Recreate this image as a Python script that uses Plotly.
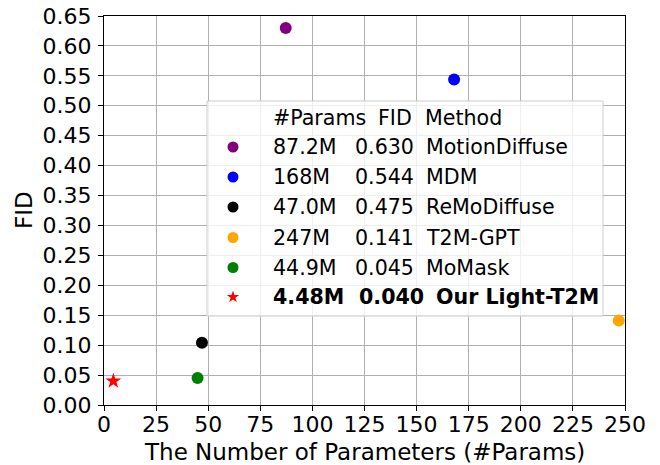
import math
import plotly.graph_objects as go

# ---- data ----
methods = ["MotionDiffuse", "MDM", "ReMoDiffuse", "T2M-GPT", "MoMask", "Our Light-T2M"]
params_m = [87.2, 168, 47.0, 247, 44.9, 4.48]          # x position (millions)
fid_plot = [0.630, 0.544, 0.104, 0.141, 0.045, 0.040]  # y position as drawn
params_label = ["87.2M", "168M", "47.0M", "247M", "44.9M", "4.48M"]
fid_label = ["0.630", "0.544", "0.475", "0.141", "0.045", "0.040"]
colors = ["purple", "blue", "black", "orange", "green", "red"]
symbols = ["circle", "circle", "circle", "circle", "circle", "star"]

x_ticks = list(range(0, 251, 25))
y_ticks = [round(i * 0.05, 2) for i in range(14)]

FONT = "DejaVu Sans"
W, H = 660, 465
ML, MR, MT, MB = 104, 35, 16, 60
PW, PH = W - ML - MR, H - MT - MB


def px_x(px):  # figure pixel -> plot-area fraction
    return (px - ML) / PW


def px_y(py):
    return (H - MB - py) / PH


fig = go.Figure()

for i, m in enumerate(methods):
    fig.add_trace(go.Scatter(
        x=[params_m[i]], y=[fid_plot[i]], mode="markers", name=m,
        marker=dict(color=colors[i], symbol=symbols[i],
                    size=12, line=dict(width=0)),
        showlegend=False, cliponaxis=True))

# ---- custom legend (table-like) ----
lx0, lx1, ly0, ly1 = px_x(207), px_x(603), px_y(316), px_y(101)
shapes = [dict(type="rect", xref="x domain", yref="y domain",
               x0=lx0, x1=lx1, y0=ly0, y1=ly1,
               fillcolor="rgba(255,255,255,0.8)",
               line=dict(color="#cccccc", width=1), layer="above")]

row_y = [px_y(v) for v in (147, 177, 207, 237.5, 267.5, 297)]
header_y = px_y(118)
marker_x = px_x(233)


def star_path(R=6.5, ratio=0.382):
    pts = []
    for k in range(10):
        r = R if k % 2 == 0 else R * ratio
        a = math.pi / 2 + k * math.pi / 5
        pts.append((r * math.cos(a), r * math.sin(a)))
    return "M " + " L ".join(f"{x:.2f},{y:.2f}" for x, y in pts) + " Z"


for i, sym in enumerate(symbols):
    if sym == "star":
        shapes.append(dict(type="path", xref="x domain", yref="y domain",
                           xsizemode="pixel", ysizemode="pixel",
                           xanchor=marker_x, yanchor=row_y[i],
                           path=star_path(6.5), fillcolor=colors[i],
                           line=dict(width=0), layer="above"))
    else:
        shapes.append(dict(type="circle", xref="x domain", yref="y domain",
                           xsizemode="pixel", ysizemode="pixel",
                           xanchor=marker_x, yanchor=row_y[i],
                           x0=-5.5, x1=5.5, y0=-5.5, y1=5.5,
                           fillcolor=colors[i], line=dict(width=0), layer="above"))

ann = []
LEG_SIZE = 20.6


def add_text(x, y, t, bold=False, size=LEG_SIZE):
    ann.append(dict(xref="x domain", yref="y domain", x=x, y=y,
                    text=f"<b>{t}</b>" if bold else t, showarrow=False,
                    xanchor="left", yanchor="middle",
                    font=dict(family=FONT, size=size, color="black")))


add_text(px_x(271), header_y, "#Params")
add_text(px_x(376), header_y, "FID")
add_text(px_x(423), header_y, "Method")
for i, m in enumerate(methods):
    bold = (i == len(methods) - 1)
    add_text(px_x(271), row_y[i], params_label[i], bold)
    add_text(px_x(357) if bold else px_x(353), row_y[i], fid_label[i], bold)
    add_text(px_x(434) if bold else px_x(424), row_y[i], m, bold)

# axis titles as annotations (fixed placement)
ann.append(dict(xref="x domain", yref="y domain", x=px_x(364.5), y=px_y(452),
                text="The Number of Parameters (#Params)", showarrow=False,
                xanchor="center", yanchor="middle",
                font=dict(family=FONT, size=23, color="black")))
ann.append(dict(xref="x domain", yref="y domain", x=px_x(24), y=px_y(210),
                text="FID", showarrow=False, textangle=-90,
                xanchor="center", yanchor="middle",
                font=dict(family=FONT, size=23, color="black")))

axis_common = dict(showgrid=True, gridcolor="#b0b0b0", gridwidth=1,
                   showline=True, linecolor="black", linewidth=1.2, mirror=True,
                   ticks="outside", ticklen=5, tickcolor="black", tickwidth=1,
                   zeroline=False, tickfont=dict(size=22, family=FONT, color="black"),
                   automargin=False)

fig.update_layout(
    width=W, height=H,
    margin=dict(l=ML, r=MR, t=MT, b=MB),
    paper_bgcolor="white", plot_bgcolor="white",
    font=dict(family=FONT, size=22, color="black"),
    annotations=ann, shapes=shapes,
    xaxis=dict(range=[0, 250], tickvals=x_ticks, ticktext=[str(v) for v in x_ticks],
               ticklabelstandoff=-6, **axis_common),
    yaxis=dict(range=[0, 0.65], tickvals=y_ticks, ticktext=[f"{v:.2f}" for v in y_ticks],
               ticklabelstandoff=2, **axis_common),
)

fig.write_html("out.html", config={"displayModeBar": False},
               post_script="document.body.style.margin='0';document.body.style.padding='0';")
